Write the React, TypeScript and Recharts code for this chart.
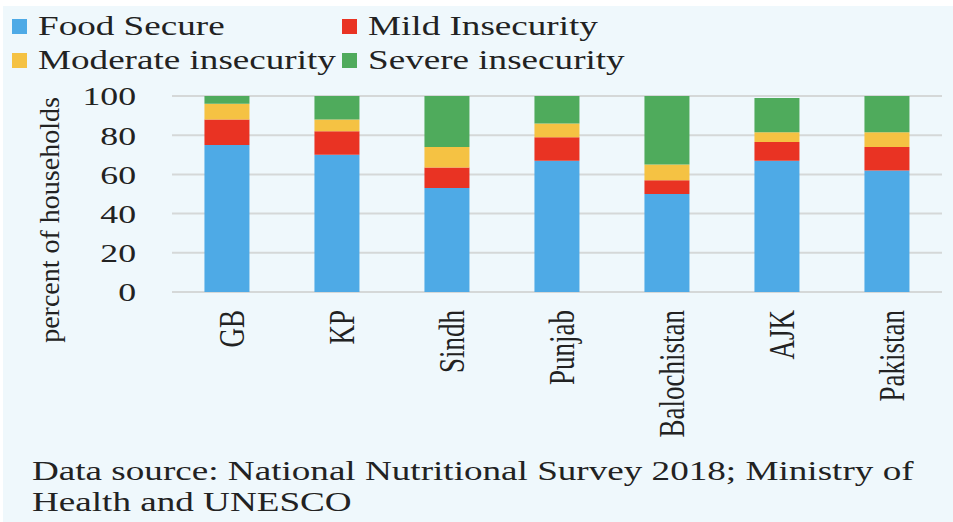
import { BarChart, Bar, XAxis, YAxis, CartesianGrid, Legend } from "recharts";

// regions, bottom-to-top stack values (% of households)
const regions = ["GB", "KP", "Sindh", "Punjab", "Balochistan", "AJK", "Pakistan"];
const foodSecure = [75, 70, 53, 67, 50, 67, 62];
const mildInsecurity = [13, 12, 10.5, 12, 7, 9.5, 12];
const moderateInsecurity = [8, 6, 10.5, 7, 8, 5, 7.5];
const severeInsecurity = [4, 12, 26, 14, 35, 17.5, 18.5];
const yTicks = [0, 20, 40, 60, 80, 100];

const series = [
  { key: "food", name: "Food Secure", color: "#4eaae6" },
  { key: "mild", name: "Mild Insecurity", color: "#e93323" },
  { key: "moderate", name: "Moderate insecurity", color: "#f5c243" },
  { key: "severe", name: "Severe insecurity", color: "#4fab5c" },
];

const data = regions.map((region, i) => ({
  region,
  food: foodSecure[i],
  mild: mildInsecurity[i],
  moderate: moderateInsecurity[i],
  severe: severeInsecurity[i],
}));

const FONT = "'Liberation Serif', 'Times New Roman', serif";
const TEXT = "#222";
const STRETCH = 1.375;

function LegendBox() {
  // legend laid out in two columns, two rows
  const cols = [12, 342];
  const rows = [13, 47];
  return (
    <div style={{ position: "relative", width: 953, height: 90 }}>
      {series.map((s, i) => (
        <div
          key={s.key}
          style={{
            position: "absolute",
            left: cols[i % 2],
            top: rows[Math.floor(i / 2)],
            display: "flex",
            alignItems: "center",
            fontFamily: FONT,
            fontSize: 27,
            lineHeight: "27px",
            color: TEXT,
            whiteSpace: "nowrap",
          }}
        >
          <span
            style={{
              display: "inline-block",
              width: 15,
              height: 15,
              background: s.color,
              marginRight: 11,
            }}
          />
          <span
            style={{
              display: "inline-block",
              transform: `scaleX(${STRETCH})`,
              transformOrigin: "left center",
            }}
          >
            {s.name}
          </span>
        </div>
      ))}
    </div>
  );
}

function YTick(props: any) {
  const { x, y, payload } = props;
  return (
    <text
      transform={`translate(${x},${y}) scale(${STRETCH},1)`}
      textAnchor="end"
      dy="0.36em"
      fontFamily={FONT}
      fontSize={26}
      fill={TEXT}
    >
      {payload.value}
    </text>
  );
}

function XTick(props: any) {
  const { x, y, payload } = props;
  return (
    <text
      transform={`translate(${x + 17},${y + 10}) scale(1.3,1) rotate(-90)`}
      textAnchor="end"
      fontFamily={FONT}
      fontSize={27}
      fill={TEXT}
    >
      {payload.value}
    </text>
  );
}

export default function App() {
  return (
    <div style={{ position: "relative", width: 953, height: 522, background: "#fff", overflow: "hidden" }}>
      <style>{`body{margin:0}`}</style>
      <div style={{ position: "absolute", left: 3, top: 6, right: 0, bottom: 0, background: "#eff8fc" }} />
      <div style={{ position: "absolute", left: 0, top: 0 }}>
        <BarChart
          width={953}
          height={470}
          data={data}
          margin={{ top: 96, right: 11, left: 112, bottom: 0 }}
          barCategoryGap="29.5%"
        >
          <CartesianGrid vertical={false} stroke="#d5d8d8" strokeWidth={2} />
          <XAxis
            dataKey="region"
            axisLine={false}
            tickLine={false}
            interval={0}
            height={178}
            tick={<XTick />}
          />
          <YAxis
            domain={[0, 100]}
            ticks={yTicks}
            axisLine={false}
            tickLine={false}
            tickMargin={30}
            width={60}
            tick={<YTick />}
            label={{
              content: () => (
                <text
                  x={59}
                  y={220}
                  transform="rotate(-90, 59, 220)"
                  textAnchor="middle"
                  fontFamily={FONT}
                  fontSize={28}
                  fill={TEXT}
                >
                  percent of households
                </text>
              ),
            }}
          />
          <Legend
            verticalAlign="middle"
            align="center"
            wrapperStyle={{ top: 0, left: 0, width: 953 }}
            content={() => <LegendBox />}
          />
          {series.map((s) => (
            <Bar
              key={s.key}
              dataKey={s.key}
              name={s.name}
              stackId="a"
              fill={s.color}
              isAnimationActive={false}
            />
          ))}
        </BarChart>
      </div>
      <div
        style={{
          position: "absolute",
          left: 32,
          top: 456,
          fontFamily: FONT,
          fontSize: 27,
          lineHeight: "31px",
          color: TEXT,
          whiteSpace: "nowrap",
          transform: `scaleX(${STRETCH})`,
          transformOrigin: "left top",
        }}
      >
        <div>Data source: National Nutritional Survey 2018; Ministry of</div>
        <div>Health and UNESCO</div>
      </div>
    </div>
  );
}
